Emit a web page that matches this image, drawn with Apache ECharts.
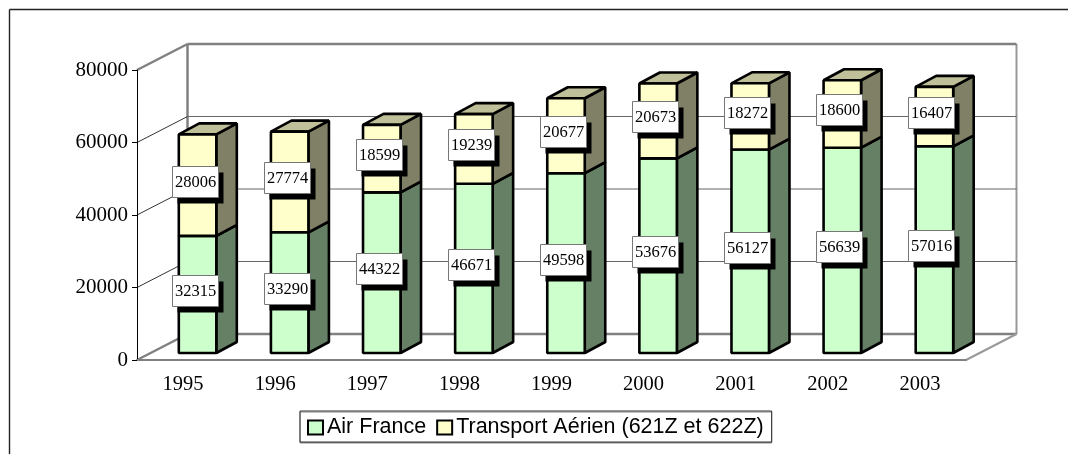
<!DOCTYPE html>
<html>
<head>
<meta charset="utf-8">
<style>html,body{margin:0;padding:0;background:#fff}#c{width:1068px;height:454px}</style>
<script src="https://cdn.jsdelivr.net/npm/echarts@6/dist/echarts.min.js"></script>
</head>
<body>
<div id="c"></div>
<script>
const categories = ['1995','1996','1997','1998','1999','2000','2001','2002','2003'];
const airFrance = [32315,33290,44322,46671,49598,53676,56127,56639,57016];
const transport = [28006,27774,18599,19239,20677,20673,18272,18600,16407];
const yTicks = [0,20000,40000,60000,80000];
const seriesNames = ['Air France','Transport Aérien (621Z et 622Z)'];

const SERIF = '"Liberation Serif","Times New Roman",serif';
const SANS = '"Liberation Sans",Arial,sans-serif';
const WALL = [50.5,-26], BAR_OFF = [14.5,-7], DEPTH = [20.5,-11], BAR_W = 37.5;
const GRAY = '#808080';

function wall(params, api){
  const v = api.value(1);
  const bw = api.size([1,0])[0];
  const p = api.coord([0,v]);
  const x0 = p[0]-bw/2, y = p[1];
  const xEnd = x0 + bw*categories.length;
  const heavy = v===yTicks[0] || v===yTicks[yTicks.length-1];
  const st = {stroke: heavy?GRAY:'#333', lineWidth: heavy?2.5:1, fill:null};
  const ch = [
    {type:'line',shape:{x1:x0,y1:y,x2:x0+WALL[0],y2:y+WALL[1]},style:st},
    {type:'line',shape:{x1:x0+WALL[0],y1:y+WALL[1],x2:xEnd+WALL[0],y2:y+WALL[1]},
     style:{stroke:heavy?GRAY:'#666',lineWidth:heavy?2.5:1}}
  ];
  if(v===yTicks[0]){
    const top = api.coord([0,yTicks[yTicks.length-1]])[1];
    ch.push({type:'line',shape:{x1:x0+WALL[0],y1:y+WALL[1],x2:x0+WALL[0],y2:top+WALL[1]},style:{stroke:GRAY,lineWidth:2.5}});
    ch.push({type:'line',shape:{x1:xEnd+WALL[0],y1:y+WALL[1],x2:xEnd+WALL[0],y2:top+WALL[1]},style:{stroke:'#999',lineWidth:2}});
    ch.push({type:'line',shape:{x1:xEnd,y1:y,x2:xEnd+WALL[0],y2:y+WALL[1]},style:{stroke:'#999',lineWidth:2}});
  }
  return {type:'group',children:ch};
}

function bar3d(front,side,topc){
  return function(params, api){
    const c0 = api.coord([api.value(0),api.value(1)]);
    const c1 = api.coord([api.value(0),api.value(2)]);
    const l = c0[0]+BAR_OFF[0]-BAR_W/2, r = l+BAR_W;
    const b = c0[1]+BAR_OFF[1], t = c1[1]+BAR_OFF[1];
    const s = {stroke:'#000',lineWidth:2.6,lineJoin:'bevel'};
    return {type:'group',children:[
      {type:'polygon',shape:{points:[[r,b],[r+DEPTH[0],b+DEPTH[1]],[r+DEPTH[0],t+DEPTH[1]],[r,t]]},style:Object.assign({fill:side},s)},
      {type:'polygon',shape:{points:[[l,t],[l+DEPTH[0],t+DEPTH[1]],[r+DEPTH[0],t+DEPTH[1]],[r,t]]},style:Object.assign({fill:topc},s)},
      {type:'rect',shape:{x:l,y:t,width:BAR_W,height:b-t},style:Object.assign({fill:front},s)}
    ]};
  };
}

function labelItem(params, api){
  const c0 = api.coord([api.value(0),api.value(1)]);
  const c1 = api.coord([api.value(0),api.value(2)]);
  const cx = c0[0]+BAR_OFF[0]-3, cy = (c0[1]+c1[1])/2+BAR_OFF[1]-3;
  const w=46, h=31;
  const x = Math.round(cx-w/2)+0.5, y = Math.round(cy-h/2)-0.5;
  return {type:'group',children:[
    {type:'rect',shape:{x:x+5,y:y+6,width:w,height:h},style:{fill:'#000'}},
    {type:'rect',shape:{x:x,y:y,width:w,height:h},style:{fill:'#fff',stroke:'#777',lineWidth:1}},
    {type:'text',style:{x:x+w/2,y:y+h/2+1,text:String(api.value(2)-api.value(1)),align:'center',verticalAlign:'middle',font:'16.5px '+SERIF,fill:'#000'}}
  ]};
}

const afData = airFrance.map((v,i)=>[i,0,v]);
const trData = transport.map((v,i)=>[i,airFrance[i],airFrance[i]+v]);

const chart = echarts.init(document.getElementById('c'),null,{renderer:'canvas'});
chart.setOption({
  animation:false,
  backgroundColor:'#fff',
  grid:{left:137,right:102,top:70,bottom:94},
  xAxis:{type:'category',data:categories,
    axisLine:{lineStyle:{color:GRAY,width:2}},
    axisTick:{length:6,lineStyle:{color:'#222',width:1}},
    axisLabel:{color:'#000',fontFamily:SERIF,fontSize:20.5,margin:14,interval:0},
    z:6},
  yAxis:{type:'value',min:0,max:80000,interval:20000,
    axisLine:{show:true,lineStyle:{color:'#000',width:1}},
    axisTick:{show:true,length:5,lineStyle:{color:'#000',width:1}},
    axisLabel:{color:'#000',fontFamily:SERIF,fontSize:21,margin:9,padding:[4,0,0,0],formatter:v=>String(v)},
    splitLine:{show:false},z:6},
  legend:{show:true,left:300,top:411,orient:'horizontal',
    data:seriesNames,
    padding:[5.5,8,3.5,7],itemGap:10,itemWidth:15,itemHeight:14,icon:'rect',
    borderColor:'#333',borderWidth:1,backgroundColor:'#fff',
    shadowColor:'#888',shadowOffsetX:0,shadowOffsetY:1,shadowBlur:0,
    itemStyle:{borderColor:'#000',borderWidth:2},
    textStyle:{color:'#000',fontFamily:SANS,fontSize:21.5,padding:[2,0,0,-1]},
    selectedMode:false},
  graphic:[
    {type:'line',silent:true,shape:{x1:9.5,y1:9.5,x2:1068,y2:9.5},style:{stroke:'#222',lineWidth:1.4}},
    {type:'line',silent:true,shape:{x1:9.5,y1:9.5,x2:9.5,y2:454},style:{stroke:'#222',lineWidth:1.4}}
  ],
  series:[
    {type:'custom',name:'walls',renderItem:wall,data:yTicks.map(t=>[0,t]),encode:{x:0,y:1},z:1,silent:true},
    {type:'custom',name:seriesNames[0],renderItem:bar3d('#CCFFCC','#668066','#99BF99'),data:afData,encode:{x:0,y:[1,2]},itemStyle:{color:'#CCFFCC'},z:3,silent:true},
    {type:'custom',name:seriesNames[1],renderItem:bar3d('#FFFFCC','#808066','#BFBF99'),data:trData,encode:{x:0,y:[1,2]},itemStyle:{color:'#FFFFCC'},z:4,silent:true},
    {type:'custom',name:'labels',renderItem:labelItem,data:afData.concat(trData),encode:{x:0,y:[1,2]},z:8,silent:true}
  ]
});
</script>
</body>
</html>
